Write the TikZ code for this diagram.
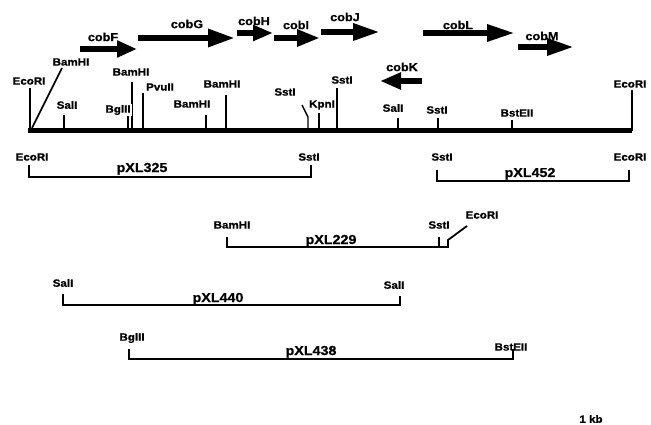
\documentclass[tikz,border=0pt]{standalone}
\usepackage{fontspec}
\newfontfamily\labfont{Liberation Sans}[FakeStretch=1.1,BoldFeatures={FakeBold=0.8}]
\usetikzlibrary{arrows.meta}
\begin{document}
\begin{tikzpicture}[x=1pt,y=-1pt,
  site/.style={inner sep=0pt,font=\labfont\bfseries\fontsize{10.5}{11}\selectfont},
  gname/.style={inner sep=0pt,font=\labfont\bfseries\fontsize{11.5}{12}\selectfont},
  clone/.style={inner sep=0pt,anchor=base,font=\labfont\bfseries\fontsize{13}{13}\selectfont},
  gene/.style={line width=6pt,-{Triangle[length=24pt,width=16pt]}},
  map/.style={line width=5pt},
  cut/.style={line width=1.4pt},
  ecocut/.style={line width=2.4pt},
  frag/.style={line width=1.8pt}]
\useasboundingbox (0,0) rectangle (651,425);

% ---- genes ----
\coordinate (F0) at (80,49);  \coordinate (F1) at (137,49);
\coordinate (G0) at (138,38); \coordinate (G1) at (235,38);
\coordinate (H0) at (237,33); \coordinate (H1) at (273,33);
\coordinate (I0) at (274,38); \coordinate (I1) at (320,38);
\coordinate (J0) at (321,32); \coordinate (J1) at (380,32);
\coordinate (K0) at (422,81); \coordinate (K1) at (380,81);
\coordinate (L0) at (423,33); \coordinate (L1) at (515,33);
\coordinate (M0) at (518,47); \coordinate (M1) at (574,47);
\draw[gene,-{Triangle[length=20pt,width=16pt]}] (F0) -- (F1);
\draw[gene,-{Triangle[length=27pt,width=17pt]}] (G0) -- (G1);
\draw[gene,-{Triangle[length=20pt,width=15pt]}] (H0) -- (H1);
\draw[gene,-{Triangle[length=23pt,width=16pt]}] (I0) -- (I1);
\draw[gene,-{Triangle[length=27pt,width=16pt]}] (J0) -- (J1);
\draw[gene,-{Triangle[length=21pt,width=16pt]}] (K0) -- (K1);
\draw[gene,-{Triangle[length=28pt,width=16pt]}] (L0) -- (L1);
\draw[gene,-{Triangle[length=27pt,width=16pt]}] (M0) -- (M1);
\node[gname] (cobF) at (103,37) {cobF};
\node[gname] (cobG) at (187,24) {cobG};
\node[gname] (cobH) at (254,21) {cobH};
\node[gname] (cobI) at (296,25) {cobI};
\node[gname] (cobJ) at (345,17) {cobJ};
\node[gname] (cobK) at (402,67) {cobK};
\node[gname] (cobL) at (458,25) {cobL};
\node[gname] (cobM) at (542,36) {cobM};

% ---- restriction map ----
\coordinate (mapL) at (28,131);
\coordinate (mapR) at (632,131);
\draw[map] (mapL) -- (mapR);

\coordinate (e1) at (30,131);  \coordinate (e1t) at (30,88);
\coordinate (e2) at (632,131); \coordinate (e2t) at (632,90);
\draw[ecocut] (e1) -- (e1t);
\draw[ecocut] (e2) -- (e2t);
\node[site] (e1lab) at (29,81) {EcoRI};
\node[site] (e2lab) at (630,84) {EcoRI};

% slanted BamHI next to the left EcoRI site
\coordinate (b1) at (32,128); \coordinate (b1t) at (62,68);
\draw[line width=1.6pt] (b1) -- (b1t);
\node[site] (b1lab) at (71,62) {BamHI};

% vertical cut sites: name / x / top
\foreach \n/\x/\t in {s1/64/115, g1/128/107, b2/132/82, p1/143/93, b3/206/115,
                      b4/226/95, k1/319/113, t2/337/88, s2/398/118, t3/438/118,
                      be/512/120}
  { \coordinate (\n) at (\x,131); \draw[cut] (\n) -- (\x,\t); }

% slanted SstI
\coordinate (t1) at (308,131); \coordinate (t1m) at (308,117); \coordinate (t1t) at (302,105);
\draw[cut] (t1) -- (t1m) -- (t1t);

\node[site] (s1lab) at (67,105) {SalI};
\node[site,fill=white,inner sep=1pt] (g1lab) at (118,110) {BglII};
\node[site] (b2lab) at (131,72) {BamHI};
\node[site] (p1lab) at (160,87) {PvuII};
\node[site] (b3lab) at (192,104) {BamHI};
\node[site] (b4lab) at (222,84) {BamHI};
\node[site] (t1lab) at (285,92) {SstI};
\node[site,fill=white,inner sep=1pt] (k1lab) at (322,105) {KpnI};
\node[site] (t2lab) at (342,80) {SstI};
\node[site] (s2lab) at (393,108) {SalI};
\node[site] (t3lab) at (437,110) {SstI};
\node[site] (belab) at (517,113) {BstEII};

% ---- subclones ----
% pXL325
\coordinate (a0) at (29,165); \coordinate (a1) at (29,177);
\coordinate (a2) at (311,177); \coordinate (a3) at (311,165);
\draw[frag] (a0) -- (a1) -- (a2) -- (a3);
\node[site] (a0lab) at (32,157) {EcoRI};
\node[site] (a3lab) at (309,157) {SstI};
\node[clone] (pXL325) at (142,172) {pXL325};

% pXL452
\coordinate (c0) at (437,170); \coordinate (c1) at (437,181);
\coordinate (c2) at (629,181); \coordinate (c3) at (629,170);
\draw[frag] (c0) -- (c1) -- (c2) -- (c3);
\node[site] (c0lab) at (442,157) {SstI};
\node[site] (c3lab) at (630,157) {EcoRI};
\node[clone] (pXL452) at (530,177) {pXL452};

% pXL229
\coordinate (d0) at (227,237); \coordinate (d1) at (227,247);
\coordinate (d2) at (448,247); \coordinate (d3) at (448,240);
\coordinate (d4) at (467,226);
\coordinate (d5) at (439,247); \coordinate (d6) at (439,237);
\draw[frag] (d0) -- (d1) -- (d2) -- (d3) -- (d4);
\draw[cut] (d5) -- (d6);
\node[site] (d0lab) at (232,225) {BamHI};
\node[site] (d6lab) at (439,225) {SstI};
\node[site] (d4lab) at (482,215) {EcoRI};
\node[clone] (pXL229) at (331,244) {pXL229};

% pXL440
\coordinate (f0) at (63,294); \coordinate (f1) at (63,305);
\coordinate (f2) at (400,305); \coordinate (f3) at (400,296);
\draw[frag] (f0) -- (f1) -- (f2) -- (f3);
\node[site] (f0lab) at (63,283) {SalI};
\node[site] (f3lab) at (394,285) {SalI};
\node[clone] (pXL440) at (218,302) {pXL440};

% pXL438
\coordinate (h0) at (129,349); \coordinate (h1) at (129,359);
\coordinate (h2) at (513,359); \coordinate (h3) at (513,349);
\draw[frag] (h0) -- (h1) -- (h2) -- (h3);
\node[site] (h0lab) at (132,338) {BglII};
\node[site] (h3lab) at (511,347) {BstEII};
\node[clone] (pXL438) at (311,355) {pXL438};

% scale
\node[site] (scale) at (591,419) {1 kb};
\end{tikzpicture}
\end{document}
